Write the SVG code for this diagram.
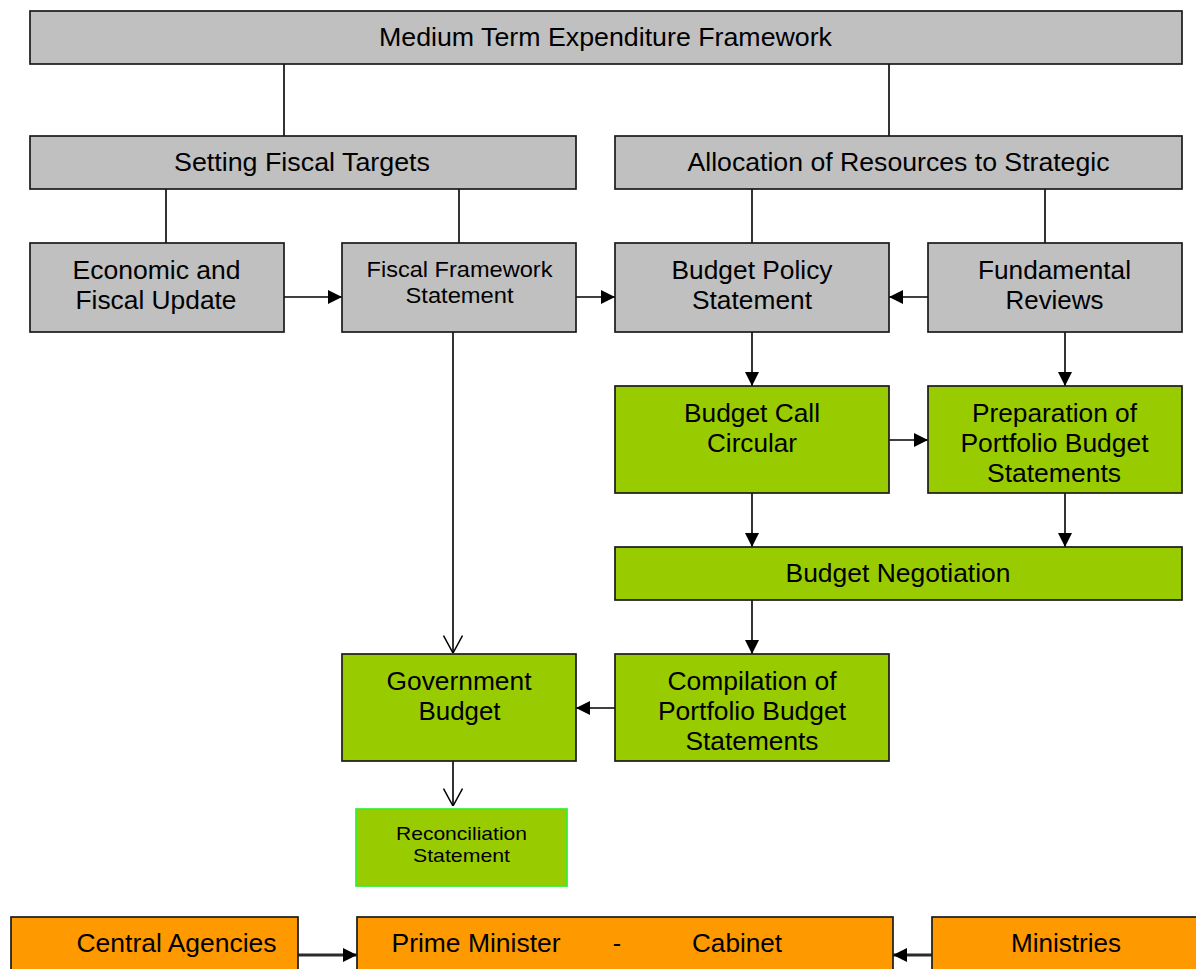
<svg xmlns="http://www.w3.org/2000/svg" width="1196" height="969" viewBox="0 0 1196 969">
  <style>
    .box rect { stroke: #1a1a1a; stroke-width: 1.7; }
    .grey { fill: #c0c0c0; }
    .green { fill: #99cc00; }
    .orange { fill: #ff9900; }
    text { font-family: "Liberation Sans", Arial, sans-serif; fill: #000; text-anchor: middle; }
    .t25 { font-size: 25px; }
    .t22 { font-size: 22px; }
    .t19 { font-size: 19px; }
    .link { stroke: #000; stroke-width: 1.6; fill: none; }
    .solid { marker-end: url(#tri); }
    .open { marker-end: url(#vee); }
    .bus { stroke: #2a2a2a; stroke-width: 3; }
  </style>
  <defs>
    <marker id="tri" viewBox="0 0 14 14" refX="14" refY="7" markerWidth="14" markerHeight="14" markerUnits="userSpaceOnUse" orient="auto">
      <path d="M0,0 L14,7 L0,14 Z" fill="#000"/>
    </marker>
    <marker id="vee" viewBox="0 0 18 20" refX="18" refY="10" markerWidth="18" markerHeight="20" markerUnits="userSpaceOnUse" orient="auto">
      <path d="M0.5,0.5 L18,10 L0.5,19.5" fill="none" stroke="#000" stroke-width="1.5"/>
    </marker>
  </defs>
  <rect width="1196" height="969" fill="#fff"/>

  <!-- connectors -->
  <g id="connectors">
    <line class="link" x1="284" y1="64" x2="284" y2="136"/>
    <line class="link" x1="889" y1="64" x2="889" y2="136"/>
    <line class="link" x1="166" y1="189" x2="166" y2="243"/>
    <line class="link" x1="459" y1="189" x2="459" y2="243"/>
    <line class="link" x1="752" y1="189" x2="752" y2="243"/>
    <line class="link" x1="1045" y1="189" x2="1045" y2="243"/>
    <line class="link solid" x1="284" y1="297" x2="342" y2="297"/>
    <line class="link solid" x1="576" y1="297" x2="615" y2="297"/>
    <line class="link solid" x1="928" y1="297" x2="889" y2="297"/>
    <line class="link open" x1="453" y1="332" x2="453" y2="653"/>
    <line class="link solid" x1="752" y1="332" x2="752" y2="386"/>
    <line class="link solid" x1="1065" y1="332" x2="1065" y2="386"/>
    <line class="link solid" x1="889" y1="440" x2="928" y2="440"/>
    <line class="link solid" x1="752" y1="493" x2="752" y2="547"/>
    <line class="link solid" x1="1065" y1="493" x2="1065" y2="547"/>
    <line class="link solid" x1="752" y1="600" x2="752" y2="654"/>
    <line class="link solid" x1="615" y1="708" x2="576" y2="708"/>
    <line class="link open" x1="453" y1="732" x2="453" y2="806"/>
    <line class="link bus solid" x1="298" y1="955" x2="357" y2="955"/>
    <line class="link bus solid" x1="932" y1="955" x2="893" y2="955"/>
  </g>

  <g id="mtef" class="box">
    <rect class="grey" x="30" y="11" width="1152" height="53"/>
    <text class="t25" x="605.5" y="46" textLength="453" lengthAdjust="spacingAndGlyphs">Medium Term Expenditure Framework</text>
  </g>
  <g id="fiscal-targets" class="box">
    <rect class="grey" x="30" y="136" width="546" height="53"/>
    <text class="t25" x="302" y="171" textLength="256" lengthAdjust="spacingAndGlyphs">Setting Fiscal Targets</text>
  </g>
  <g id="allocation" class="box">
    <rect class="grey" x="615" y="136" width="567" height="53"/>
    <text class="t25" x="898.5" y="171" textLength="422" lengthAdjust="spacingAndGlyphs">Allocation of Resources to Strategic</text>
  </g>
  <g id="economic-update" class="box">
    <rect class="grey" x="30" y="243" width="254" height="89"/>
    <text class="t25" x="156.5" y="279" textLength="168" lengthAdjust="spacingAndGlyphs">Economic and</text>
    <text class="t25" x="156" y="309" textLength="161" lengthAdjust="spacingAndGlyphs">Fiscal Update</text>
  </g>
  <g id="fiscal-framework" class="box">
    <rect class="grey" x="342" y="243" width="234" height="89"/>
    <text class="t22" x="459.5" y="277" textLength="186" lengthAdjust="spacingAndGlyphs">Fiscal Framework</text>
    <text class="t22" x="459.5" y="303" textLength="108" lengthAdjust="spacingAndGlyphs">Statement</text>
  </g>
  <g id="budget-policy" class="box">
    <rect class="grey" x="615" y="243" width="274" height="89"/>
    <text class="t25" x="752" y="279" textLength="161" lengthAdjust="spacingAndGlyphs">Budget Policy</text>
    <text class="t25" x="752" y="309" textLength="120" lengthAdjust="spacingAndGlyphs">Statement</text>
  </g>
  <g id="fundamental-reviews" class="box">
    <rect class="grey" x="928" y="243" width="254" height="89"/>
    <text class="t25" x="1054.5" y="279" textLength="153" lengthAdjust="spacingAndGlyphs">Fundamental</text>
    <text class="t25" x="1054.5" y="309" textLength="98" lengthAdjust="spacingAndGlyphs">Reviews</text>
  </g>
  <g id="budget-call" class="box">
    <rect class="green" x="615" y="386" width="274" height="107"/>
    <text class="t25" x="752" y="422" textLength="136" lengthAdjust="spacingAndGlyphs">Budget Call</text>
    <text class="t25" x="752" y="452" textLength="90" lengthAdjust="spacingAndGlyphs">Circular</text>
  </g>
  <g id="preparation-pbs" class="box">
    <rect class="green" x="928" y="386" width="254" height="107"/>
    <text class="t25" x="1054.5" y="422" textLength="165" lengthAdjust="spacingAndGlyphs">Preparation of</text>
    <text class="t25" x="1054.5" y="452" textLength="188" lengthAdjust="spacingAndGlyphs">Portfolio Budget</text>
    <text class="t25" x="1054" y="482" textLength="134" lengthAdjust="spacingAndGlyphs">Statements</text>
  </g>
  <g id="budget-negotiation" class="box">
    <rect class="green" x="615" y="547" width="567" height="53"/>
    <text class="t25" x="898" y="582" textLength="225" lengthAdjust="spacingAndGlyphs">Budget Negotiation</text>
  </g>
  <g id="government-budget" class="box">
    <rect class="green" x="342" y="654" width="234" height="107"/>
    <text class="t25" x="459" y="690" textLength="145" lengthAdjust="spacingAndGlyphs">Government</text>
    <text class="t25" x="459.5" y="720" textLength="82" lengthAdjust="spacingAndGlyphs">Budget</text>
  </g>
  <g id="compilation-pbs" class="box">
    <rect class="green" x="615" y="654" width="274" height="107"/>
    <text class="t25" x="752" y="690" textLength="169" lengthAdjust="spacingAndGlyphs">Compilation of</text>
    <text class="t25" x="752" y="720" textLength="188" lengthAdjust="spacingAndGlyphs">Portfolio Budget</text>
    <text class="t25" x="752" y="750" textLength="133" lengthAdjust="spacingAndGlyphs">Statements</text>
  </g>
  <g id="reconciliation">
    <rect class="green" x="356" y="809" width="211" height="77" stroke="#33ee33" stroke-width="1.7"/>
    <text class="t19" x="461.5" y="840" textLength="131" lengthAdjust="spacingAndGlyphs">Reconciliation</text>
    <text class="t19" x="461.5" y="862" textLength="97" lengthAdjust="spacingAndGlyphs">Statement</text>
  </g>
  <g id="central-agencies" class="box">
    <rect class="orange" x="11" y="917" width="287" height="60"/>
    <text class="t25" x="176.5" y="952" textLength="200" lengthAdjust="spacingAndGlyphs">Central Agencies</text>
  </g>
  <g id="prime-minister-cabinet" class="box">
    <rect class="orange" x="357" y="917" width="536" height="60"/>
    <text class="t25" x="391.5" y="952" style="text-anchor:start" textLength="169" lengthAdjust="spacingAndGlyphs">Prime Minister</text>
    <text class="t25" x="617" y="952">-</text>
    <text class="t25" x="692" y="952" style="text-anchor:start" textLength="90" lengthAdjust="spacingAndGlyphs">Cabinet</text>
  </g>
  <g id="ministries" class="box">
    <rect class="orange" x="932" y="917" width="280" height="60"/>
    <text class="t25" x="1066" y="952" textLength="110" lengthAdjust="spacingAndGlyphs">Ministries</text>
  </g>
</svg>
